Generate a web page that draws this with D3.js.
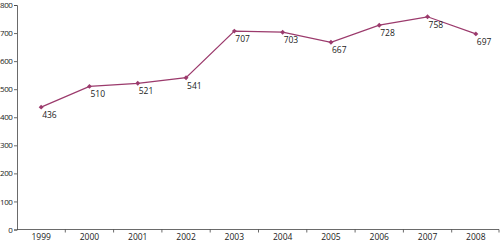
<!DOCTYPE html>
<html lang="en"><head>
<meta charset="UTF-8">
<title>Chart</title>
<script src="https://cdn.jsdelivr.net/npm/d3@7"></script>
<style>
body { margin: 0; background: #fff; }
text { font-family: "Open Sans", sans-serif; font-size: 8.5px; fill: #222; }
</style>
</head>
<body>
<div id="chart"></div>
<script>

var years = ["1999", "2000", "2001", "2002", "2003", "2004", "2005", "2006", "2007", "2008"];
var values = [436, 510, 521, 541, 707, 703, 667, 728, 758, 697];
var yTicks = [0, 100, 200, 300, 400, 500, 600, 700, 800];

var width = 500, height = 243;
var marginLeft = 17, plotRight = 500, plotTop = 5, plotBottom = 229.5;
var lineColor = "#9b3a6c";

var svg = d3.select("#chart").append("svg")
  .attr("width", width)
  .attr("height", height);

var x = d3.scaleBand().domain(years).range([marginLeft, plotRight]);
var y = d3.scaleLinear().domain([0, 800]).range([plotBottom, plotTop]);

// y axis
var yAxis = svg.append("g")
  .attr("transform", "translate(" + marginLeft + ",0)")
  .call(d3.axisLeft(y).tickValues(yTicks).tickSize(3).tickPadding(1.5));
yAxis.selectAll("path, line").attr("stroke", "#444").attr("stroke-width", 0.8);
yAxis.selectAll("text")
  .style("font-family", "Open Sans, sans-serif")
  .style("font-size", "8px")
  .style("letter-spacing", "-0.4px")
  .attr("fill", "#222");

// x axis: ticks between categories
var xg = svg.append("g").attr("transform", "translate(0," + plotBottom + ")");
xg.append("line")
  .attr("x1", marginLeft).attr("x2", plotRight - 1)
  .attr("stroke", "#444").attr("stroke-width", 0.8);
xg.selectAll(".tk").data(years.slice(1)).enter().append("line")
  .attr("x1", function(d) { return x(d); })
  .attr("x2", function(d) { return x(d); })
  .attr("y1", 0).attr("y2", 3)
  .attr("stroke", "#444").attr("stroke-width", 0.8);
xg.append("line")
  .attr("x1", plotRight - 1).attr("x2", plotRight - 1)
  .attr("y1", 0).attr("y2", 3)
  .attr("stroke", "#444").attr("stroke-width", 0.8);
xg.selectAll(".lbl").data(years).enter().append("text")
  .attr("x", function(d) { return x(d) + x.bandwidth() / 2; })
  .attr("y", 10)
  .attr("text-anchor", "middle")
  .text(function(d) { return d; });

var pts = years.map(function(d, i) {
  return { year: d, value: values[i] };
});

var line = d3.line()
  .x(function(d) { return x(d.year) + x.bandwidth() / 2; })
  .y(function(d) { return y(d.value); });

svg.append("path")
  .datum(pts)
  .attr("d", line)
  .attr("fill", "none")
  .attr("stroke", lineColor)
  .attr("stroke-width", 1.2);

svg.selectAll(".mk").data(pts).enter().append("path")
  .attr("d", d3.symbol().type(d3.symbolSquare).size(12))
  .attr("transform", function(d) {
    return "translate(" + (x(d.year) + x.bandwidth() / 2) + "," + y(d.value) + ") rotate(45)";
  })
  .attr("fill", lineColor);

svg.selectAll(".val").data(pts).enter().append("text")
  .attr("x", function(d) { return x(d.year) + x.bandwidth() / 2 + 1; })
  .attr("y", function(d) { return y(d.value) + 11; })
  .text(function(d) { return d.value; });

</script>
</body></html>
